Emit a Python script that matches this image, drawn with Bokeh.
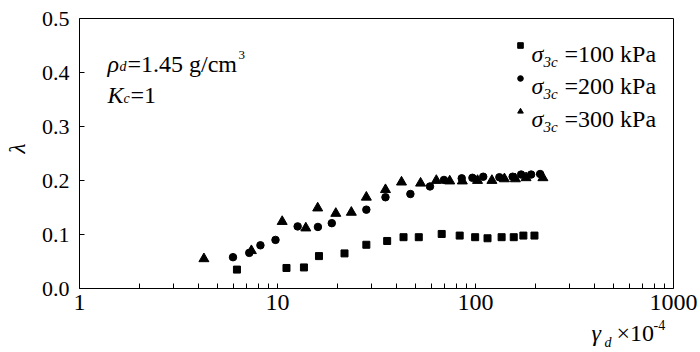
import math
from bokeh.plotting import figure
from bokeh.models import (Range1d, FixedTicker, PrintfTickFormatter, Label, Legend,
                          LegendItem, LinearAxis)
from bokeh.embed import file_html
from bokeh.resources import INLINE

# ---------------- data ----------------
x_100 = [6.24, 11.1, 13.6, 16.2, 21.8, 28.1, 35.8, 43.3, 51.7, 67.5, 83.2, 99.6, 115, 135.5, 156, 174.5, 198.5]
y_100 = [0.035, 0.038, 0.039, 0.060, 0.065, 0.081, 0.088, 0.095, 0.095, 0.101, 0.098, 0.095, 0.093, 0.095, 0.095, 0.098, 0.098]

x_200 = [5.96, 7.2, 8.2, 9.77, 12.64, 16.0, 18.8, 28.1, 35.1, 46.9, 58.9, 69.3, 85.2, 96.5, 109.4, 132, 154, 170, 191, 212]
y_200 = [0.058, 0.066, 0.080, 0.090, 0.115, 0.114, 0.121, 0.146, 0.169, 0.175, 0.189, 0.201, 0.204, 0.205, 0.207, 0.206, 0.207, 0.211, 0.211, 0.212]

x_300 = [4.25, 7.38, 10.56, 13.9, 15.96, 19.7, 23.6, 28.1, 35.1, 42.3, 52.8, 63.4, 74.1, 85.8, 102.4, 121, 140, 159, 180, 219]
y_300 = [0.055, 0.070, 0.124, 0.112, 0.149, 0.139, 0.141, 0.169, 0.183, 0.197, 0.195, 0.200, 0.199, 0.199, 0.200, 0.200, 0.203, 0.203, 0.205, 0.205]

x_ticks = [1, 10, 100, 1000]
x_tick_labels = ["1", "10", "100", "1000"]
x_min, x_max = 1, 1000
y_ticks = [0.0, 0.1, 0.2, 0.3, 0.4, 0.5]
y_min, y_max = 0.0, 0.5

legend_values = ["=100 kPa", "=200 kPa", "=300 kPa"]

# ---------------- layout constants ----------------
W, H = 700, 352
FL, FR, FT, FB = 79, 673, 18, 288   # axis box edges in canvas px
DEC = (FR - FL) / 3.0
PPU = (FB - FT) / (y_max - y_min)   # px per y unit
SERIF = "Liberation Serif"
FS = 24                              # main text size (px)


def X(px):
    return 10 ** ((px - FL) / DEC)


def Y(py):
    return (FB - py) / PPU


# the frame covers the whole canvas; the four axes sit at fixed data locations
p = figure(width=W, height=H, x_axis_type="log",
           x_range=Range1d(X(0), X(W)), y_range=Range1d(Y(H), Y(0)),
           output_backend="svg", toolbar_location=None,
           min_border=0, min_border_left=0, min_border_right=0,
           min_border_top=0, min_border_bottom=0)

p.background_fill_color = "white"
p.border_fill_color = "white"
p.grid.visible = False
p.outline_line_color = None

# axes
xa, ya = p.xaxis[0], p.yaxis[0]
xa.fixed_location = y_min
xa.bounds = (x_min, x_max)
xa.ticker = FixedTicker(ticks=x_ticks,
                        minor_ticks=[m * 10 ** e for e in range(3) for m in range(2, 10)])
xa.formatter = PrintfTickFormatter(format="%d")
xa.major_label_overrides = {t: s for t, s in zip(x_ticks, x_tick_labels)}
ya.fixed_location = x_min
ya.bounds = (y_min, y_max)
ya.ticker = FixedTicker(ticks=y_ticks)
ya.formatter = PrintfTickFormatter(format="%.1f")

for ax in (xa, ya):
    ax.axis_line_color = "black"
    ax.axis_line_width = 1
    ax.major_tick_line_color = "black"
    ax.major_tick_in = 5
    ax.major_tick_out = 0
    ax.major_label_text_font = SERIF
    ax.major_label_text_color = "black"

xa.minor_tick_line_color = "black"
xa.minor_tick_in = 5
xa.minor_tick_out = 0
ya.minor_tick_line_color = None

xa.major_label_text_font_size = "24px"
xa.major_label_standoff = 6
ya.major_label_text_font_size = "22px"
ya.major_label_standoff = 10

# box: top and right edges
top = LinearAxis(ticker=FixedTicker(ticks=[]), axis_line_color="black",
                 major_tick_line_color=None, minor_tick_line_color=None,
                 fixed_location=y_max, bounds=(x_min, x_max))
right = LinearAxis(ticker=FixedTicker(ticks=[]), axis_line_color="black",
                   major_tick_line_color=None, minor_tick_line_color=None,
                   fixed_location=x_max, bounds=(y_min, y_max))
p.add_layout(top, "above")
p.add_layout(right, "right")

# data
r1 = p.scatter(x_100, y_100, marker="square", size=7, color="black")
r2 = p.scatter(x_200, y_200, marker="circle", size=7.5, color="black")
r3 = p.scatter(x_300, y_300, marker="triangle", size=10, color="black")

# legend keys (text drawn separately for sub-scripts)
legend = Legend(items=[LegendItem(label=" ", renderers=[r]) for r in (r1, r2, r3)],
                location=(513, 234), glyph_width=14, glyph_height=14,
                label_height=14, label_width=1, spacing=19, padding=0, margin=0,
                label_standoff=0, label_text_font=SERIF, label_text_font_size="8px",
                border_line_color=None, background_fill_alpha=0)
p.add_layout(legend)


def txt(s, px, py, size, style="normal", angle=0.0, align="left", baseline="alphabetic"):
    p.add_layout(Label(x=X(px), y=Y(py), text=s, text_font=SERIF,
                       text_font_size=f"{size}px", text_font_style=style,
                       text_color="black", text_baseline=baseline,
                       text_align=align, angle=angle))


# y axis title
txt("λ", 17, 148, 23, "italic", angle=math.pi / 2, align="center", baseline="middle")

# annotation: rho_d = 1.45 g/cm3, K_c = 1
txt("ρ", 107, 63, FS, "italic")
txt("d", 119, 66, 14, "italic")
txt("=1.45 g/cm", 127, 63, FS)
txt("3", 238, 54, 13)
txt("K", 107, 94, FS, "italic")
txt("c", 123, 98, 14, "italic")
txt("=1", 130, 94, FS)

# legend texts
for i, v in enumerate(legend_values):
    b = 53 + 32.5 * i
    txt("σ", 531, b, FS, "italic")
    txt("3c", 543, b + 8, 15, "italic")
    txt(v, 564, b, FS)

# x axis title: gamma_d x 10^-4
txt("γ", 591, 332, FS, "italic")
txt("d", 604, 342, 14, "italic")
txt("×10", 616, 332, FS)
txt("-4", 653, 324, 14)

open("out.html", "w").write(file_html(p, INLINE))
